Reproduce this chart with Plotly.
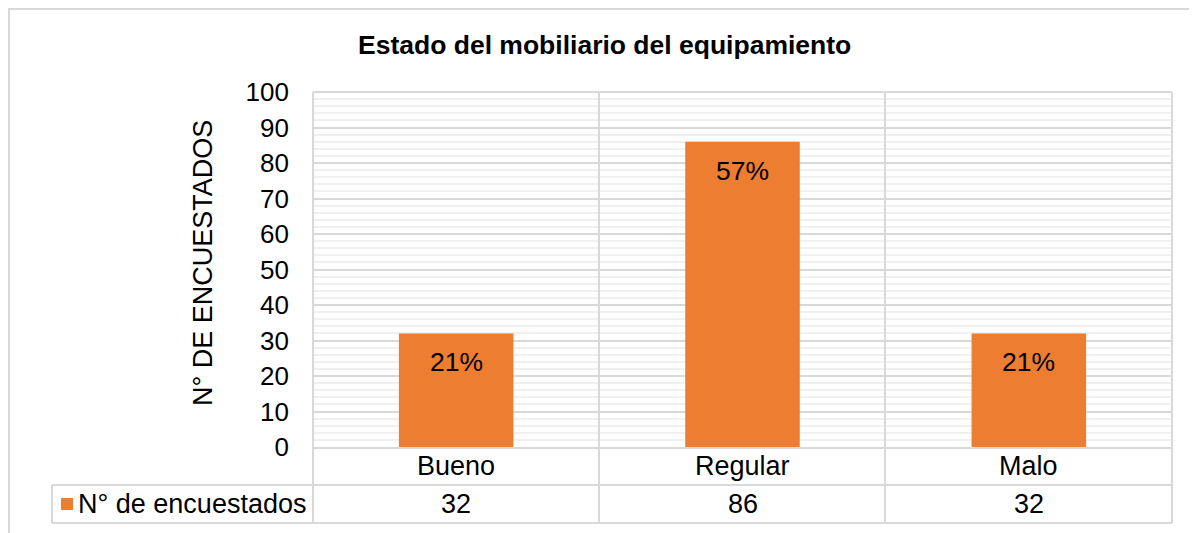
import plotly.graph_objects as go

categories = ["Bueno", "Regular", "Malo"]
values = [32, 86, 32]
pct_labels = ["21%", "57%", "21%"]
series_name = "N° de encuestados"
y_ticks = [0, 10, 20, 30, 40, 50, 60, 70, 80, 90, 100]
title_text = "Estado del mobiliario del equipamiento"
y_title = "N° DE ENCUESTADOS"

ORANGE = "#ED7D31"
GRID = "#d9d9d9"
MINOR = "#f0f0f0"
FONT = "Liberation Sans, Arial, sans-serif"
FS = 27

OFF = 8  # page body margin
W, H = 1197 - OFF, 533 - OFF
# plot area in screen pixels
L, R, T, B = 313, 1172, 92, 447
pw, ph = R - L, B - T

def px_x(px):
    return (px - L) / pw

def px_y(py):
    return (B - py) / ph

fig = go.Figure()
fig.add_trace(go.Bar(
    x=categories, y=values, name=series_name,
    marker=dict(color=ORANGE, line=dict(width=0)),
    width=0.4, showlegend=False,
))

annotations = []
for c, v, t in zip(categories, values, pct_labels):
    annotations.append(dict(x=c, y=v, xref="x", yref="y", text=t, showarrow=False,
                            yanchor="middle", yshift=-29,
                            font=dict(family=FONT, size=26.5, color="#000")))
row1 = px_y(466)
row2 = px_y(504)
for c, v in zip(categories, values):
    annotations.append(dict(x=c, y=row1, xref="x", yref="paper", text=c, showarrow=False,
                            yanchor="middle", font=dict(family=FONT, size=FS, color="#000")))
    annotations.append(dict(x=c, y=row2, xref="x", yref="paper", text=str(v), showarrow=False,
                            yanchor="middle", font=dict(family=FONT, size=FS, color="#000")))
annotations.append(dict(x=px_x(76), y=row2, xref="paper", yref="paper", text=series_name,
                        showarrow=False, xanchor="left", yanchor="middle",
                        font=dict(family=FONT, size=FS, color="#000")))
annotations.append(dict(x=px_x(203), y=px_y(263), xref="paper", yref="paper", text=y_title,
                        showarrow=False, textangle=-90, xanchor="center", yanchor="middle",
                        font=dict(family=FONT, size=FS, color="#000")))
annotations.append(dict(x=px_x(604), y=px_y(45), xref="paper", yref="paper", text=f"<b>{title_text}</b>",
                        showarrow=False, xanchor="center", yanchor="middle",
                        font=dict(family=FONT, size=26.5, color="#000")))

shapes = []
line = dict(color=GRID, width=2)
shapes.append(dict(type="rect", xref="paper", yref="paper",
                   x0=px_x(9), x1=px_x(1215), y0=px_y(9), y1=px_y(560), line=line, layer="below"))
for px in [L, 599, 885, R]:
    shapes.append(dict(type="line", xref="paper", yref="paper", x0=px_x(px), x1=px_x(px),
                       y0=px_y(T), y1=px_y(523), line=line))
shapes.append(dict(type="line", xref="paper", yref="paper", x0=px_x(L), x1=px_x(R),
                   y0=px_y(T), y1=px_y(T), line=line))
for py in [485, 523]:
    shapes.append(dict(type="line", xref="paper", yref="paper", x0=px_x(52), x1=px_x(R),
                       y0=px_y(py), y1=px_y(py), line=line))
shapes.append(dict(type="line", xref="paper", yref="paper", x0=px_x(52), x1=px_x(52),
                   y0=px_y(485), y1=px_y(523), line=line))
shapes.append(dict(type="rect", xref="paper", yref="paper", x0=px_x(61), x1=px_x(73),
                   y0=px_y(498), y1=px_y(510), fillcolor=ORANGE, line=dict(width=0)))

fig.update_layout(
    width=W, height=H,
    margin=dict(l=L - OFF, r=W - (R - OFF), t=T - OFF, b=H - (B - OFF), pad=0),
    paper_bgcolor="white", plot_bgcolor="white",
    font=dict(family=FONT, size=FS, color="#000"),
    bargap=0.6,
    annotations=annotations,
    shapes=shapes,
    xaxis=dict(showticklabels=False, showgrid=False, zeroline=False, showline=True,
               linecolor=GRID, linewidth=2, fixedrange=True),
    yaxis=dict(range=[0, 100], tickvals=y_ticks, showgrid=True, gridcolor=GRID, gridwidth=1.5,
               minor=dict(dtick=2, showgrid=True, gridcolor=MINOR, gridwidth=2),
               zeroline=False, showline=False, ticks="", ticklabelstandoff=23,
               tickfont=dict(family=FONT, size=26, color="#000"), fixedrange=True),
)

fig.write_html("out.html")
